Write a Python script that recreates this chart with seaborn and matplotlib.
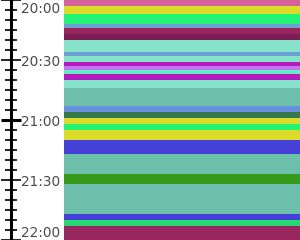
import matplotlib
matplotlib.use("Agg")
import matplotlib.pyplot as plt
import matplotlib.transforms as mtransforms
import seaborn as sns
import pandas as pd
import numpy as np

# Schedule bands (minutes after 20:00) and their colours
starts = [0, 3, 7, 12, 14, 17, 20, 26, 28, 31, 33, 35, 37, 40, 44, 53, 56,
          59, 62, 65, 70, 77, 87, 92, 107, 110, 113]
ends = starts[1:] + [120]
colors = ["#d5609a", "#dcdc28", "#22f474", "#6a9fd4", "#98275e", "#7b1d52",
          "#86e3c9", "#6a9fd4", "#86e3c9", "#b51bbd", "#c572f2", "#66ecc4",
          "#b51bbd", "#86e3c9", "#6bbfab", "#6a8fe0", "#357a4b", "#dcdc28",
          "#22f474", "#dcdc28", "#4440d8", "#6bbfab", "#359a1c", "#6bbfab",
          "#4440d8", "#28d874", "#97275e"]
tick_minutes = [0, 30, 60, 90, 120]
tick_labels = ["20:00", "20:30", "21:00", "21:30", "22:00"]
minor_step = 5
range_min, range_max = 0, 120

sns.set_theme(style="white")
plt.rcParams['font.family'] = ['DejaVu Sans']

df = pd.DataFrame({
    "mid": [(s + e) / 2 for s, e in zip(starts, ends)],
    "band": [f"b{i:02d}" for i in range(len(starts))],
    "w": [1.0] * len(starts),
})
palette = dict(zip(df["band"], colors))
edges = starts + [ends[-1]]

fig = plt.figure(figsize=(3.0, 2.4), dpi=100)

ax = fig.add_axes([64 / 300, 0, 236 / 300, 1])
sns.histplot(data=df, y="mid", weights="w", bins=edges, hue="band",
             palette=palette, multiple="layer", alpha=1, linewidth=0,
             legend=False, ax=ax)
for p in ax.patches:
    p.set_antialiased(False)
ax.set_xlim(0, 1)
ax.set_ylim(range_max, range_min)
ax.axis("off")

# Time axis
ta = fig.add_axes([10.5 / 300, 0, 0.0001, 1])
ta.set_ylim(range_max, range_min)
ta.set_xticks([])
for s in ["left", "top", "bottom"]:
    ta.spines[s].set_visible(False)
ta.spines["right"].set_linewidth(2.2)
ta.spines["right"].set_color("black")
ta.yaxis.set_ticks_position("right")
ta.set_yticks(tick_minutes)
ta.set_yticklabels(tick_labels)
ta.set_yticks(np.arange(range_min, range_max + 1, minor_step), minor=True)
ta.tick_params(axis="y", which="major", direction="inout", length=14.4,
               width=1.2, color="black", pad=0.6, labelsize=9.8,
               labelcolor="#4a4a4a", labelright=True, labelleft=False)
ta.tick_params(axis="y", which="minor", direction="inout", length=8.6,
               width=1.2, color="black")
ticks = ta.yaxis.get_major_ticks()
ticks[2].tick2line.set_markeredgewidth(2.2)
labels = ta.get_yticklabels()
labels[0].set_va("top")
labels[0].set_transform(labels[0].get_transform() +
                        mtransforms.ScaledTranslation(0, -1.5 / 72, fig.dpi_scale_trans))
labels[-1].set_va("bottom")

fig.savefig("out.png", dpi=100)
